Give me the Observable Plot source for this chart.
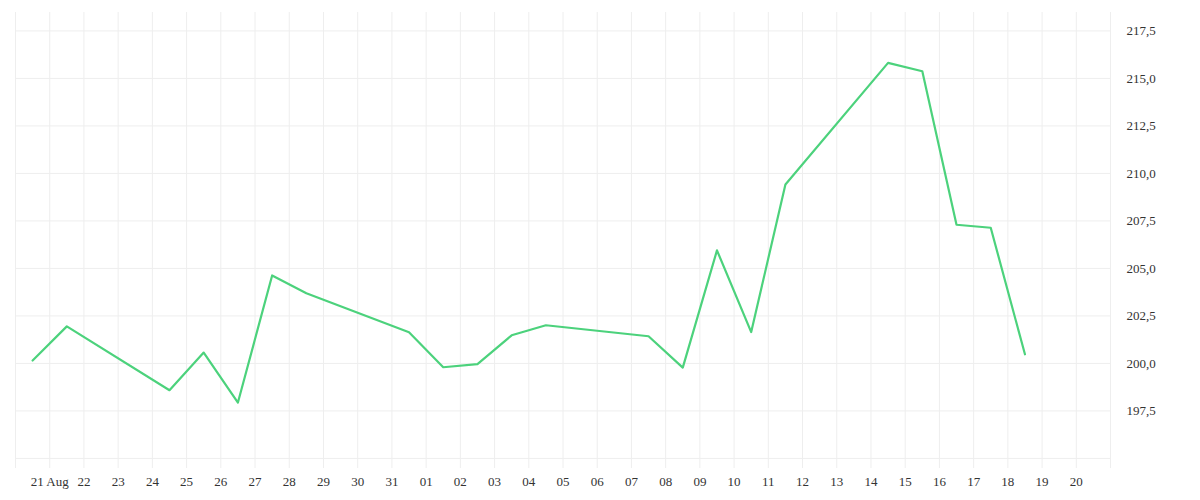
<!DOCTYPE html>
<html>
<head>
<meta charset="utf-8">
<script src="https://cdn.jsdelivr.net/npm/d3@7"></script>
<script src="https://cdn.jsdelivr.net/npm/@observablehq/plot@0.6"></script>
<style>
  html, body { margin: 0; padding: 0; background: #fff; }
  #chart svg { display: block; }
</style>
</head>
<body>
<div id="chart"></div>
<script>
// Trading days (2020) and closing values
const dates = [
  "2020-08-20","2020-08-21","2020-08-24","2020-08-25","2020-08-26","2020-08-27","2020-08-28",
  "2020-08-31","2020-09-01","2020-09-02","2020-09-03","2020-09-04",
  "2020-09-07","2020-09-08","2020-09-09","2020-09-10","2020-09-11",
  "2020-09-14","2020-09-15","2020-09-16","2020-09-17","2020-09-18"
];
const values = [
  200.15, 201.95, 198.59, 200.57, 197.94, 204.63, 203.69,
  201.64, 199.80, 199.96, 201.48, 202.01,
  201.43, 199.78, 205.95, 201.65, 209.42,
  215.82, 215.38, 207.30, 207.14, 200.48
];
// x grid / tick days
const gridDays = d3.utcDay.range(new Date("2020-08-20"), new Date("2020-09-22"));
const xTickDays = d3.utcDay.range(new Date("2020-08-21"), new Date("2020-09-21"));
const firstTickLabel = "21\u2009Aug";
// y ticks
const yGrid = [195, 197.5, 200, 202.5, 205, 207.5, 210, 212.5, 215, 217.5];
const yTickLabels = [197.5, 200, 202.5, 205, 207.5, 210, 212.5, 215, 217.5];

const data = dates.map((d, i) => ({date: d3.utcHour.offset(new Date(d), 12), value: values[i]}));
const fmtY = v => v.toFixed(1).replace(".", ",");
const fmtX = d => (+d === +xTickDays[0]) ? firstTickLabel : d3.utcFormat("%d")(d);

const chart = Plot.plot({
  width: 1200,
  height: 500,
  marginLeft: 15,
  marginRight: 90,
  marginTop: 12,
  marginBottom: 32,
  style: {fontFamily: "'Liberation Serif', 'Times New Roman', serif", color: "#333", background: "#fff"},
  x: {type: "utc", domain: [new Date("2020-08-20"), new Date("2020-09-21")]},
  y: {domain: [194.47, 218.47]},
  marks: [
    Plot.ruleX(gridDays, {stroke: "#eeeeee", strokeWidth: 1, strokeOpacity: 1}),
    Plot.ruleY(yGrid, {stroke: "#eeeeee", strokeWidth: 1, strokeOpacity: 1}),
    Plot.axisX({ticks: xTickDays, tickFormat: fmtX, tickSize: 0, tickPadding: 8, fontSize: 13, fontFamily: "'Liberation Serif', serif", label: null}),
    Plot.axisY({anchor: "right", ticks: yTickLabels, tickFormat: fmtY, tickSize: 0, tickPadding: 16, fontSize: 13, fontFamily: "'Liberation Serif', serif", label: null}),
    Plot.line(data, {x: "date", y: "value", stroke: "#4cd27c", strokeWidth: 2.2})
  ]
});
document.getElementById("chart").appendChild(chart);
</script>
</body>
</html>
